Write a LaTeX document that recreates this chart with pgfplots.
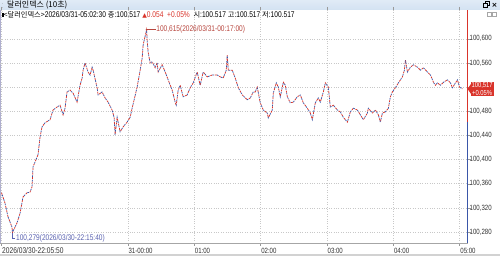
\documentclass[border=0pt]{standalone}
\usepackage{pgfplots}
\pgfplotsset{compat=1.18}
\usepackage{pgfplotstable}
\usepackage{fontspec}
\setmainfont[FakeStretch=0.8]{Liberation Sans}
\newfontfamily\kr{Noto Sans CJK KR}
\newfontfamily\dv{DejaVu Sans}
\definecolor{upred}{HTML}{D9342B}
\definecolor{dnblue}{HTML}{3A56A8}
\definecolor{barblue}{HTML}{D3E2F2}
\definecolor{gridc}{HTML}{C8C8C8}
\definecolor{annblue}{HTML}{5A62B0}
\definecolor{annred}{HTML}{B8463E}
\definecolor{txt}{HTML}{333333}

\pgfplotstableread{
h v
-1.903 100.345
-1.851 100.328
-1.805 100.305
-1.745 100.288
-1.739 100.279
-1.670 100.295
-1.624 100.311
-1.579 100.338
-1.519 100.345
-1.474 100.346
-1.443 100.355
-1.428 100.388
-1.398 100.396
-1.353 100.408
-1.323 100.437
-1.293 100.454
-1.247 100.461
-1.172 100.466
-1.127 100.482
-1.066 100.487
-1.021 100.490
-0.976 100.474
-0.946 100.485
-0.916 100.512
-0.870 100.515
-0.825 100.510
-0.765 100.495
-0.720 100.523
-0.689 100.535
-0.674 100.548
-0.644 100.560
-0.599 100.545
-0.569 100.540
-0.538 100.553
-0.523 100.548
-0.463 100.519
-0.448 100.507
-0.388 100.512
-0.342 100.502
-0.297 100.495
-0.237 100.482
-0.207 100.470
-0.192 100.441
-0.161 100.470
-0.116 100.446
-0.071 100.454
-0.011 100.462
0.035 100.470
0.065 100.485
0.140 100.520
0.186 100.548
0.216 100.568
0.231 100.590
0.283 100.615
0.291 100.598
0.306 100.578
0.336 100.560
0.367 100.562
0.412 100.552
0.442 100.560
0.457 100.545
0.517 100.557
0.563 100.545
0.608 100.532
0.668 100.515
0.713 100.495
0.729 100.490
0.759 100.515
0.789 100.523
0.834 100.504
0.894 100.507
0.940 100.519
0.985 100.527
1.045 100.545
1.090 100.523
1.136 100.545
1.196 100.537
1.271 100.540
1.347 100.540
1.392 100.537
1.437 100.535
1.483 100.548
1.498 100.573
1.513 100.548
1.573 100.548
1.618 100.535
1.664 100.519
1.724 100.507
1.800 100.499
1.845 100.502
1.890 100.512
1.920 100.512
1.950 100.520
1.995 100.494
2.041 100.482
2.101 100.477
2.116 100.469
2.176 100.482
2.192 100.510
2.237 100.527
2.267 100.520
2.297 100.504
2.343 100.528
2.373 100.523
2.403 100.504
2.448 100.494
2.493 100.495
2.554 100.504
2.599 100.507
2.644 100.494
2.704 100.485
2.750 100.477
2.780 100.466
2.825 100.494
2.870 100.502
2.900 100.495
2.946 100.512
2.976 100.527
3.021 100.520
3.051 100.487
3.097 100.490
3.157 100.482
3.202 100.479
3.247 100.470
3.308 100.462
3.353 100.479
3.398 100.485
3.459 100.482
3.504 100.474
3.549 100.466
3.609 100.477
3.624 100.485
3.685 100.477
3.730 100.482
3.775 100.474
3.805 100.462
3.836 100.477
3.881 100.479
3.926 100.485
3.956 100.504
3.986 100.512
4.032 100.519
4.077 100.527
4.137 100.537
4.167 100.548
4.183 100.565
4.213 100.545
4.258 100.553
4.303 100.557
4.364 100.553
4.409 100.548
4.454 100.552
4.514 100.545
4.560 100.540
4.605 100.528
4.635 100.523
4.665 100.527
4.710 100.523
4.756 100.528
4.816 100.532
4.861 100.527
4.891 100.519
4.937 100.527
4.967 100.532
4.997 100.520
5.042 100.517
}\pricedata

\begin{document}
\begin{tikzpicture}[x=1pt,y=1pt]
\useasboundingbox (0,0) rectangle (500,256);
\fill[white] (0,0) rectangle (500,256);
% title bar
\shade[top color=barblue!70, bottom color=barblue] (0,246) rectangle (500,256);
\node[anchor=west, inner sep=0pt, font=\kr\fontsize{8}{8}\selectfont, text=black] at (7,251) {달러인덱스 (10초)};
\node[anchor=center, inner sep=0pt, text=gray, font=\fontsize{6}{6}\selectfont] at (2.5,251) {$\vdots$};
\node[anchor=center, inner sep=0pt, font=\dv\bfseries\fontsize{7}{7}\selectfont] at (494.5,251) {×};
\draw[black, line width=0.7pt] (483.5,249) rectangle (487.5,253);
\draw[black, line width=0.5pt] (485,253) -- (485,254.5) -- (489,254.5) -- (489,250.5) -- (487.5,250.5);
% bottom strip
\fill[gray!35] (0,0) rectangle (500,2);
% left border
\draw[blue!25!gray!50, line width=1pt] (0.5,13) -- (0.5,246);
\begin{axis}[at={(0pt,13pt)}, anchor=south west, scale only axis,
  width=467.5pt, height=233pt,
  xmin=-1.926, xmax=5.118, ymin=100.2618, ymax=100.6477,
  clip=false,
  axis line style={draw=none},
  xtick={-1.903,0,1,2,3,4,5},
  xticklabels={{\fontsize{8.3}{8}\selectfont 2026/03/30-22:05:50}, 31-00:00, 01:00, 02:00, 03:00, 04:00, 05:00},
  ytick={100.28,100.32,100.36,100.40,100.44,100.48,100.52,100.56,100.60},
  yticklabels={100{,}280,100{,}320,100{,}360,100{,}400,100{,}440,100{,}480,,100{,}560,100{,}600},
  yticklabel pos=right,
  tick align=outside, major tick length=3pt,
  tick style={gray!80, thin},
  xticklabel style={anchor=north west, inner sep=0pt, xshift=0.5pt, yshift=-1.5pt, text=txt, font=\fontsize{7.6}{8}\selectfont},
  yticklabel style={anchor=west, inner sep=0pt, xshift=-1pt, text=txt, font=\fontsize{7.6}{8}\selectfont},
  grid=major, major grid style={gridc, dotted, line width=0.5pt},
]
\addplot[upred, line width=0.75pt, dash pattern=on 2pt off 2.6pt] table[x=h,y=v] {\pricedata};
\addplot[dnblue, line width=0.75pt, dash pattern=on 1.6pt off 3pt, dash phase=2.4pt] table[x=h,y=v] {\pricedata};
% axis frame lines
\draw[gray!70] (rel axis cs:0,0) -- (rel axis cs:1,0);
\draw[upred, line width=1pt] (axis cs:5.118,100.463) -- (axis cs:5.118,100.6477);
\draw[dnblue, line width=1pt] (axis cs:5.118,100.2618) -- (axis cs:5.118,100.463);
% annotations
\draw[annred, line width=0.5pt] (axis cs:0.283,100.615) -- ++(9pt,0pt)
  node[anchor=west, inner sep=0.5pt, font=\fontsize{8.2}{8}\selectfont] {100,615(2026/03/31-00:17:00)};
\fill[annred] (axis cs:0.283,100.615) circle[radius=0.9pt];
\draw[annblue, line width=0.5pt] (axis cs:-1.739,100.279) -- ++(0pt,-6pt) -- ++(3pt,0pt)
  node[anchor=west, inner sep=0.5pt, font=\fontsize{8.2}{8}\selectfont] {100,279(2026/03/30-22:15:40)};
% current price label
\fill[upred] (axis cs:5.118,100.517) -- ++(3.5pt,5pt) -- ++(0pt,-10pt) -- cycle;
\node[fill=upred, text=white, inner sep=0.9pt, anchor=west, align=center,
  font=\fontsize{7.3}{7.2}\selectfont] at (axis cs:5.118,100.517) [xshift=3pt] {100,517\\+0.05\%};
\end{axis}
% info line
\node[anchor=west, inner sep=0pt, font=\fontsize{8.3}{8}\selectfont, text=black] at (2,241.5)
 {\rule{1.5pt}{4.5pt}{\kr\fontsize{7.2}{8}\selectfont<달러인덱스>}2026/03/31-05:02:30 {\kr\fontsize{7.2}{8}\selectfont 종}:100.517 \textcolor{upred}{{\dv\fontsize{6}{8}\selectfont▲}0.054 \ +0.05\%} \ {\kr\fontsize{7.2}{8}\selectfont 시}:100.517 {\kr\fontsize{7.2}{8}\selectfont 고}:100.517 {\kr\fontsize{7.2}{8}\selectfont 저}:100.517};
\draw[gray!70, line width=0.4pt] (487,239.5) rectangle (491,243.5);
\draw[gray!70, line width=0.4pt] (492.5,239.5) rectangle (496.5,243.5);
\end{tikzpicture}
\end{document}
